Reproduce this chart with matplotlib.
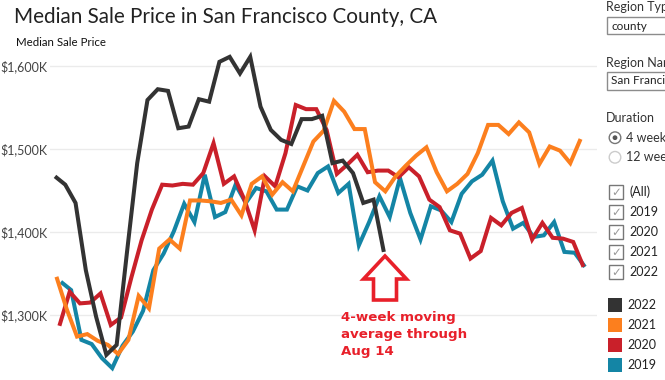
import pandas as pd
import numpy as np
import matplotlib.pyplot as plt
from matplotlib.patches import Rectangle, Polygon, Circle

# =========================
# DATA (median sale price, $K, 4-week moving average, weekly)
# =========================

dates_2022 = pd.date_range("2022-01-02", periods=33, freq="7D")
dates_2021 = pd.date_range("2021-01-03", periods=52, freq="7D")
dates_2020 = pd.date_range("2020-01-05", periods=52, freq="7D")
dates_2019 = pd.date_range("2019-01-06", periods=52, freq="7D")

price_2022 = [1467, 1457, 1435, 1354, 1298, 1252, 1264, 1375, 1483, 1559,
              1572, 1570, 1525, 1527, 1560, 1557, 1605, 1611, 1591, 1611,
              1551, 1523, 1511, 1506, 1536, 1536, 1540, 1483, 1486, 1471,
              1435, 1439, 1376]

price_2021 = [1346, 1307, 1274, 1277, 1269, 1264, 1253, 1270, 1323, 1308,
              1380, 1391, 1380, 1438, 1438, 1437, 1435, 1439, 1420, 1458,
              1467, 1445, 1460, 1449, 1479, 1509, 1522, 1558, 1545, 1524,
              1524, 1460, 1449, 1467, 1480, 1492, 1502, 1472, 1449, 1458,
              1470, 1495, 1529, 1529, 1518, 1532, 1520, 1482, 1503, 1498,
              1483, 1512]

price_2020 = [1287, 1328, 1314, 1315, 1326, 1288, 1297, 1345, 1390, 1427,
              1457, 1456, 1458, 1457, 1471, 1507, 1458, 1467, 1439, 1402,
              1467, 1455, 1495, 1553, 1548, 1548, 1523, 1470, 1481, 1493,
              1472, 1474, 1474, 1466, 1478, 1467, 1439, 1430, 1402, 1398,
              1368, 1377, 1417, 1408, 1423, 1429, 1391, 1411, 1393, 1392,
              1388, 1358]

price_2019 = [1340, 1330, 1270, 1265, 1248, 1236, 1263, 1280, 1305, 1354,
              1374, 1401, 1434, 1412, 1469, 1418, 1424, 1457, 1435, 1453,
              1449, 1427, 1427, 1455, 1450, 1471, 1479, 1447, 1458, 1384,
              1412, 1443, 1418, 1465, 1423, 1391, 1431, 1426, 1412, 1446,
              1461, 1469, 1486, 1437, 1404, 1411, 1394, 1396, 1412, 1376,
              1375, 1358]

yticks = [1300, 1400, 1500, 1600]
ytick_labels = ["$1,300K", "$1,400K", "$1,500K", "$1,600K"]

years = ["2022", "2021", "2020", "2019"]
colors = {"2022": "#333333", "2021": "#fc7f1e", "2020": "#c9202a", "2019": "#1485a5"}

series = {
    "2019": (dates_2019, price_2019),
    "2020": (dates_2020, price_2020),
    "2021": (dates_2021, price_2021),
    "2022": (dates_2022, price_2022),
}

# =========================
# FIGURE
# =========================

W, H = 665, 380
fig = plt.figure(figsize=(W / 100, H / 100), dpi=100)
FONT = "Lato"

def fx(px):
    return px / W

def fy(py):
    return 1 - py / H

ax = fig.add_axes([fx(50), 0, fx(597) - fx(50), 1 - 40 / H])

for yr in ["2019", "2020", "2021", "2022"]:
    d, v = series[yr]
    ax.plot(d.dayofyear, v, color=colors[yr], lw=2.9,
            solid_joinstyle="miter", solid_capstyle="butt", zorder=3)

ax.set_xlim(-1.4, 371.2)
ax.set_ylim(1221.7, 1631.3)
ax.set_yticks(yticks)
ax.set_yticklabels(ytick_labels, fontsize=9, color="#444444", family=FONT)
ax.set_xticks([])
ax.tick_params(axis="y", length=0, pad=2)
for s in ax.spines.values():
    s.set_visible(False)
ax.grid(axis="y", color="#ebebeb", lw=1)
ax.set_axisbelow(True)

# titles
fig.text(fx(14), fy(17), "Median Sale Price in San Francisco County, CA",
         fontsize=14.9, color="#222222", family=FONT, va="center")
fig.text(fx(16), fy(43), "Median Sale Price", fontsize=8.3,
         color="#111111", family=FONT, va="center")

# =========================
# ANNOTATION
# =========================

red = "#e8202a"
tip_x, tip_y = 385, 256
arrow = [(tip_x, tip_y), (tip_x + 21.5, 279), (tip_x + 11.5, 279),
         (tip_x + 11.5, 300), (tip_x - 11.5, 300), (tip_x - 11.5, 279),
         (tip_x - 21.5, 279)]
fig.patches.append(Polygon([(fx(a), fy(b)) for a, b in arrow], closed=True,
                           transform=fig.transFigure, facecolor="white",
                           edgecolor=red, lw=2.6, joinstyle="miter"))
fig.text(fx(341), fy(311), "4-week moving\naverage through\nAug 14",
         fontsize=9.6, fontweight="bold", color=red, family="DejaVu Sans",
         va="top", ha="left", linespacing=1.42)

# =========================
# RIGHT PANEL (filters + legend)
# =========================

def circle(px, py, r, **kw):
    # radius in pixels, kept round regardless of figure aspect
    c = Circle((px / 100, (H - py) / 100), r / 100, transform=fig.dpi_scale_trans, **kw)
    fig.patches.append(c)

pcol = "#333333"
fig.text(fx(606), fy(7), "Region Type", fontsize=9, color=pcol, family=FONT, va="center")
fig.patches.append(Rectangle((fx(606.5), fy(34)), fx(80), 17 / H, transform=fig.transFigure,
                             facecolor="white", edgecolor="#8c8c8c", lw=1))
fig.text(fx(611), fy(26), "county", fontsize=8.5, color="#222222", family=FONT, va="center")

fig.text(fx(606), fy(63), "Region Name", fontsize=9, color=pcol, family=FONT, va="center")
fig.patches.append(Rectangle((fx(606.5), fy(90)), fx(80), 18 / H, transform=fig.transFigure,
                             facecolor="white", edgecolor="#8c8c8c", lw=1))
fig.text(fx(611), fy(81), "San Francisco County, CA", fontsize=8.5, color="#222222",
         family=FONT, va="center")

fig.text(fx(606), fy(118), "Duration", fontsize=9, color=pcol, family=FONT, va="center")
circle(615, 137.7, 5.8, facecolor="white", edgecolor="#777777", lw=1)
circle(615, 137.7, 2.4, facecolor="#555555", edgecolor="none")
fig.text(fx(626), fy(137.7), "4 weeks", fontsize=9, color=pcol, family=FONT, va="center")
circle(615, 157.3, 5.8, facecolor="white", edgecolor="#cccccc", lw=1)
fig.text(fx(626), fy(157.3), "12 weeks", fontsize=9, color=pcol, family=FONT, va="center")

check_labels = ["(All)", "2019", "2020", "2021", "2022"]
for i, lab in enumerate(check_labels):
    cy = 192 + 20 * i
    fig.patches.append(Rectangle((fx(609), fy(cy + 7)), 14 / W, 14 / H,
                                 transform=fig.transFigure, facecolor="white",
                                 edgecolor="#777777", lw=1))
    fig.text(fx(616), fy(cy + 0.5), "\u2713", fontsize=8.5, color="#999999",
             family="DejaVu Sans", ha="center", va="center")
    fig.text(fx(629), fy(cy), lab, fontsize=9, color="#222222", family=FONT, va="center")

for i, yr in enumerate(years):
    cy = 305 + 20 * i
    fig.patches.append(Rectangle((fx(608), fy(cy + 7)), 14 / W, 14 / H,
                                 transform=fig.transFigure, facecolor=colors[yr],
                                 edgecolor="none"))
    fig.text(fx(627), fy(cy), yr, fontsize=9, color="#222222", family=FONT, va="center")

plt.savefig("out.png", dpi=100)
plt.close()
